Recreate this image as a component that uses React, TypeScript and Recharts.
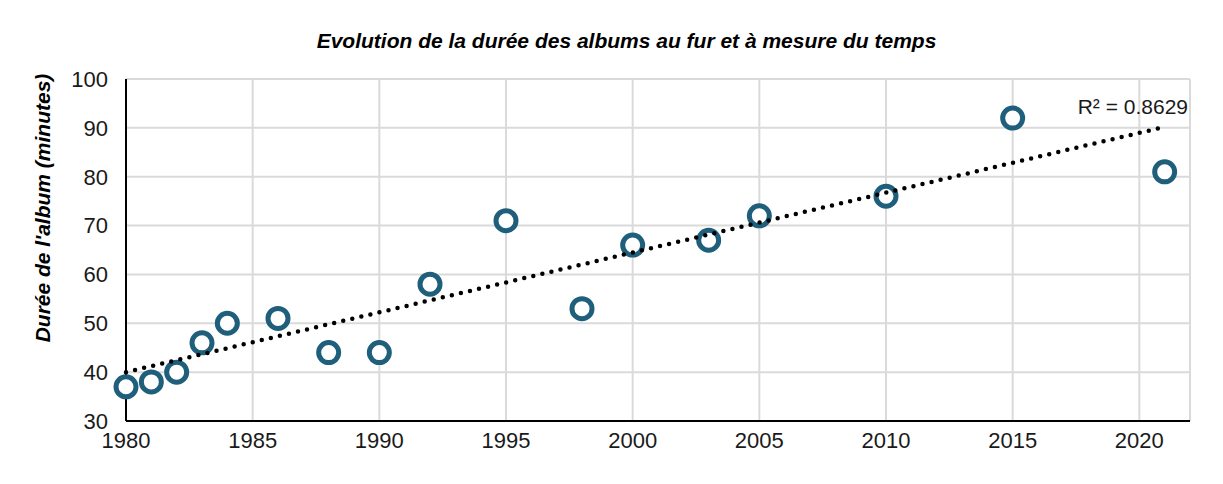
import {
  ScatterChart,
  Scatter,
  XAxis,
  YAxis,
  CartesianGrid,
  ReferenceDot,
  Label,
} from "recharts";

const years = [1980, 1981, 1982, 1983, 1984, 1986, 1988, 1990, 1992, 1995, 1998, 2000, 2003, 2005, 2010, 2015, 2021];
const durations = [37, 38, 40, 46, 50, 51, 44, 44, 58, 71, 53, 66, 67, 72, 76, 92, 81];

// trend line endpoints
const trendYears = [1980, 2021];
const trendValues = [40, 90.2];

const xTicks = [1980, 1985, 1990, 1995, 2000, 2005, 2010, 2015, 2020];
const yTicks = [30, 40, 50, 60, 70, 80, 90, 100];

const title = "Evolution de la durée des albums au fur et à mesure du temps";
const yLabel = "Durée de l'album (minutes)";
const r2Label = "R² = 0.8629";

const points = years.map((y, i) => ({ year: y, duration: durations[i] }));
const trend = trendYears.map((y, i) => ({ year: y, duration: trendValues[i] }));

const FONT = "'Liberation Sans', Arial, sans-serif";
const BLUE = "#1f5f7b";

const Ring = (props: any) => {
  const { cx, cy } = props;
  if (cx == null || cy == null) return <g />;
  return <circle cx={cx} cy={cy} r={10} fill="#fff" stroke={BLUE} strokeWidth={5} />;
};

export default function App() {
  return (
    <div style={{ position: "absolute", left: 0, top: 0, background: "#fff", fontFamily: FONT }}>
      <div
        style={{
          position: "absolute",
          left: 0,
          width: 1253,
          top: 29,
          textAlign: "center",
          fontSize: 21,
          fontWeight: "bold",
          fontStyle: "italic",
          color: "#000",
        }}
      >
        {title}
      </div>
      <ScatterChart
        width={1223}
        height={484}
        margin={{ top: 79, right: 33, bottom: 33, left: 20 }}
      >
        <CartesianGrid stroke="#dadada" strokeWidth={2} />
        <XAxis
          type="number"
          dataKey="year"
          domain={[1980, 2022]}
          ticks={xTicks}
          height={30}
          tickLine={false}
          tickMargin={5}
          axisLine={{ stroke: "#000", strokeWidth: 2 }}
          tick={{ fontSize: 22, fill: "#1a1a1a", fontFamily: FONT }}
        />
        <YAxis
          type="number"
          dataKey="duration"
          domain={[30, 100]}
          ticks={yTicks}
          width={106}
          tickLine={false}
          tickMargin={12}
          axisLine={{ stroke: "#000", strokeWidth: 2 }}
          tick={{ fontSize: 22, fill: "#1a1a1a", fontFamily: FONT }}
        >
          <Label
            content={() => (
              <text
                x={42}
                y={208}
                transform="rotate(-90 42 208)"
                textAnchor="middle"
                dominantBaseline="central"
                fontSize={21}
                fontWeight="bold"
                fontStyle="italic"
                fontFamily={FONT}
                fill="#000"
              >
                {yLabel}
              </text>
            )}
          />
        </YAxis>
        <Scatter data={points} shape={Ring} isAnimationActive={false} />
        <Scatter
          data={trend}
          shape={() => <g />}
          line={{ stroke: "#000", strokeWidth: 4.5, strokeDasharray: "0 9.3", strokeLinecap: "round" }}
          isAnimationActive={false}
        />
        <ReferenceDot
          x={2022}
          y={90}
          r={0}
          stroke="none"
          fill="none"
          label={(p: any) => (
            <text
              x={p.viewBox.x - 2}
              y={p.viewBox.y - 14}
              textAnchor="end"
              fontSize={21}
              fontFamily={FONT}
              fill="#1a1a1a"
            >
              {r2Label}
            </text>
          )}
        />
      </ScatterChart>
    </div>
  );
}
